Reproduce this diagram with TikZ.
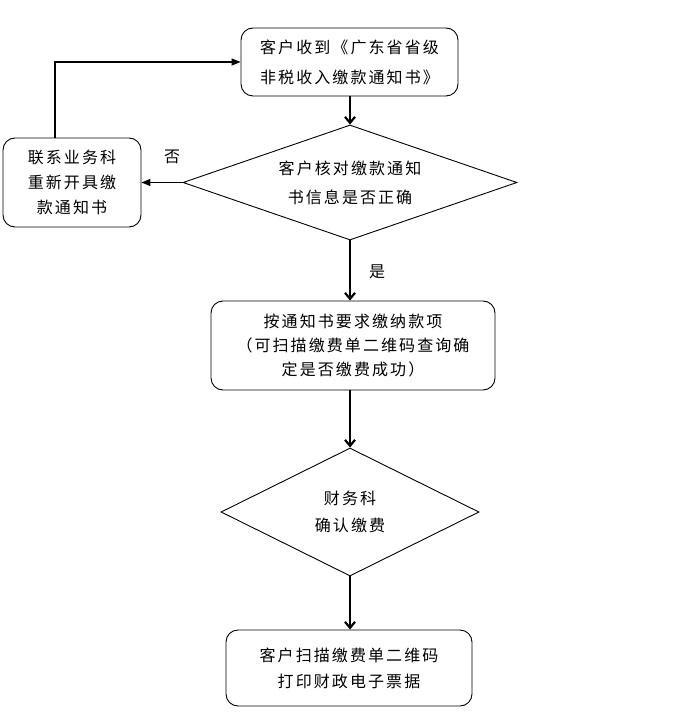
\documentclass[tikz,border=0pt]{standalone}
\usepackage{fontspec}
\newfontfamily\cjk[LetterSpace=13]{Noto Sans CJK SC}
\usetikzlibrary{shapes.geometric,arrows.meta}

\tikzset{
  stepbox/.style={draw,rounded corners=12pt,line width=0.9pt,align=center,inner sep=0pt},
  checkbox/.style={draw,diamond,aspect=2.9,line width=0.9pt,align=center,inner sep=0pt},
  flow/.style={line width=2.2pt,-{Straight Barb[length=6pt,width=10pt]}},
  backflow/.style={line width=1.2pt,-{Triangle[length=9pt,width=7pt]}},
  note/.style={inner sep=0pt}
}

\begin{document}
\begin{tikzpicture}[x=1pt,y=-1pt,font=\cjk\fontsize{16}{25}\selectfont]
   \useasboundingbox (0,0) rectangle (674,727);
   % boxes and checks
   \node[stepbox,minimum width=217pt,minimum height=68pt,font=\cjk\fontsize{16}{30}\selectfont] (recv) at (349.5,62) {客户收到《广东省省级\\非税收入缴款通知书》};
   \node[checkbox,minimum width=334pt,minimum height=115pt,font=\cjk\fontsize{16}{29}\selectfont] (verify) at (350,182.5) {客户核对缴款通知\\书信息是否正确};
   \node[stepbox,minimum width=138pt,minimum height=89pt] (reissue) at (72,182.5) {联系业务科\\重新开具缴\\款通知书};
   \node[stepbox,minimum width=284pt,minimum height=89pt,font=\cjk\fontsize{16}{24}\selectfont] (pay) at (353,345.5) {按通知书要求缴纳款项\\（可扫描缴费单二维码查询确\\定是否缴费成功）};
   \node[checkbox,minimum width=258pt,minimum height=128pt,font=\cjk\fontsize{16}{27}\selectfont] (confirm) at (350,512) {财务科\\确认缴费};
   \node[stepbox,minimum width=246pt,minimum height=76pt,font=\cjk\fontsize{16}{26}\selectfont] (print) at (349,668) {客户扫描缴费单二维码\\打印财政电子票据};
   % labels
   \node[note] (no) at (172,157) {否};
   \node[note] (yes) at (377,272) {是};
   % connectors
   \draw[flow] (recv.south -| verify.north) -- (verify.north);
   \draw[backflow] (verify.west) -- (reissue.east);
   \draw[backflow] ([xshift=-17pt]reissue.north) |- (recv.west);
   \draw[flow] (verify.south) -- (verify.south |- pay.north);
   \draw[flow] (pay.south -| confirm.north) -- (confirm.north);
   \draw[flow] (confirm.south) -- (confirm.south |- print.north);
\end{tikzpicture}
\end{document}
